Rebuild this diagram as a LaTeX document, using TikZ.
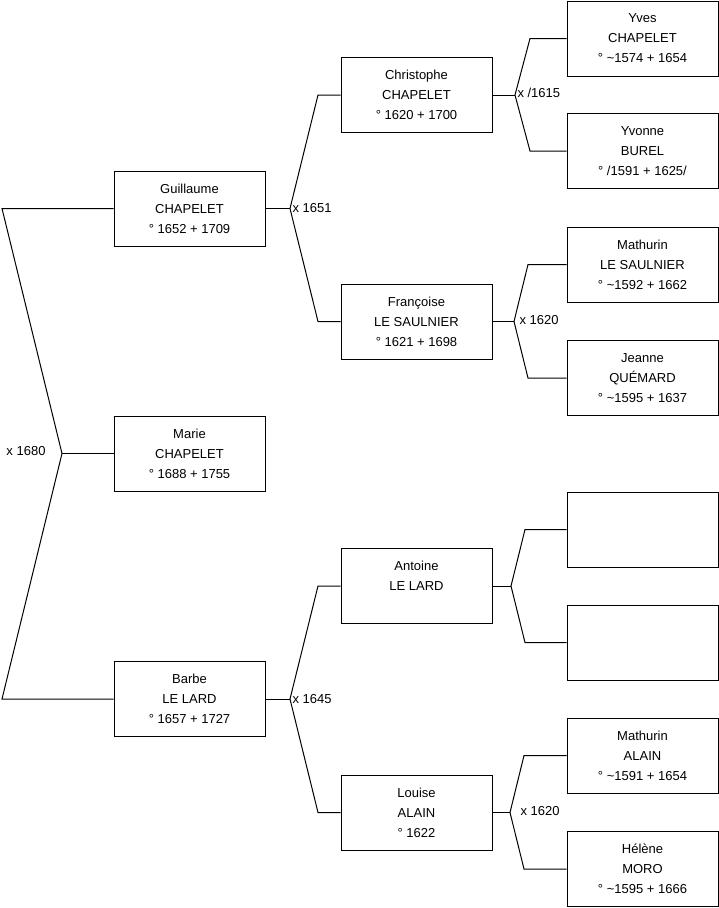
\documentclass[tikz,border=0pt]{standalone}
\usepackage{fontspec}
\setmainfont{Liberation Sans}
\usepackage{tikz}

\tikzset{
  person/.style={draw, rectangle, minimum width=151pt, minimum height=75pt, align=center, inner sep=0pt},
  wedding/.style={inner sep=0pt, anchor=west},
}

\begin{document}
\begin{tikzpicture}[x=1pt, y=-1pt, line width=1pt, font=\fontsize{13}{20}\selectfont]
\useasboundingbox (0,0) rectangle (719,908);

% generation 1
\node[person] (guillaume) at (189.5,208.5) {Guillaume\\CHAPELET\\° 1652 + 1709};
\node[person] (marie) at (189.5,453.5) {Marie\\CHAPELET\\° 1688 + 1755};
\node[person] (barbe) at (189.5,699) {Barbe\\LE LARD\\° 1657 + 1727};

% generation 2
\node[person] (christophe) at (416.5,95) {Christophe\\CHAPELET\\° 1620 + 1700};
\node[person] (francoise) at (416.5,321.5) {Françoise\\LE SAULNIER\\° 1621 + 1698};
\node[person] (antoine) at (416.5,586) {Antoine\\LE LARD\\\mbox{}};
\node[person] (louise) at (416.5,812.5) {Louise\\ALAIN\\° 1622};

% generation 3
\node[person] (yves) at (642.5,38.5) {Yves\\CHAPELET\\° \textasciitilde1574 + 1654};
\node[person] (yvonne) at (642.5,151) {Yvonne\\BUREL\\° /1591 + 1625/};
\node[person] (mathurinls) at (642.5,264.5) {Mathurin\\LE SAULNIER\\° \textasciitilde1592 + 1662};
\node[person] (jeanne) at (642.5,378) {Jeanne\\QUÉMARD\\° \textasciitilde1595 + 1637};
\node[person] (unknowna) at (642.5,529.5) {};
\node[person] (unknownb) at (642.5,642.5) {};
\node[person] (mathurina) at (642.5,755.5) {Mathurin\\ALAIN\\° \textasciitilde1591 + 1654};
\node[person] (helene) at (642.5,869) {Hélène\\MORO\\° \textasciitilde1595 + 1666};

% marie's parents
\coordinate (r0) at (62,453.5);
\coordinate (r1) at (2,208.5);
\coordinate (r2) at (2,699);
\draw (guillaume.west) -- (r1) -- (r0) -- (r2) -- (barbe.west);
\draw (r0) -- (marie.west);
\node[inner sep=0pt, anchor=east] (m0) at (46,451.5) {x 1680};

% guillaume's parents
\coordinate (g0) at (290,208.5);
\coordinate (g1) at (318,95);
\coordinate (g2) at (318,321.5);
\draw (guillaume.east) -- (g0);
\draw (christophe.west) -- (g1) -- (g0) -- (g2) -- (francoise.west);
\node[wedding] (m1) at (292,208.5) {x 1651};

% barbe's parents
\coordinate (b0) at (290,699);
\coordinate (b1) at (318,586);
\coordinate (b2) at (318,812.5);
\draw (barbe.east) -- (b0);
\draw (antoine.west) -- (b1) -- (b0) -- (b2) -- (louise.west);
\node[wedding] (m2) at (292,699) {x 1645};

% christophe's parents
\coordinate (c0) at (515,95);
\coordinate (c1) at (530,38.5);
\coordinate (c2) at (530,151);
\draw (christophe.east) -- (c0);
\draw (yves.west) -- (c1) -- (c0) -- (c2) -- (yvonne.west);
\node[wedding] (m3) at (517,93) {x /1615};

% francoise's parents
\coordinate (f0) at (514,321.5);
\coordinate (f1) at (528,264.5);
\coordinate (f2) at (528,378);
\draw (francoise.east) -- (f0);
\draw (mathurinls.west) -- (f1) -- (f0) -- (f2) -- (jeanne.west);
\node[wedding] (m4) at (519,320) {x 1620};

% antoine's parents
\coordinate (a0) at (511,586);
\coordinate (a1) at (525,529.5);
\coordinate (a2) at (525,642.5);
\draw (antoine.east) -- (a0);
\draw (unknowna.west) -- (a1) -- (a0) -- (a2) -- (unknownb.west);

% louise's parents
\coordinate (l0) at (510,812.5);
\coordinate (l1) at (524,755.5);
\coordinate (l2) at (524,869);
\draw (louise.east) -- (l0);
\draw (mathurina.west) -- (l1) -- (l0) -- (l2) -- (helene.west);
\node[wedding] (m5) at (520,811) {x 1620};
\end{tikzpicture}
\end{document}
